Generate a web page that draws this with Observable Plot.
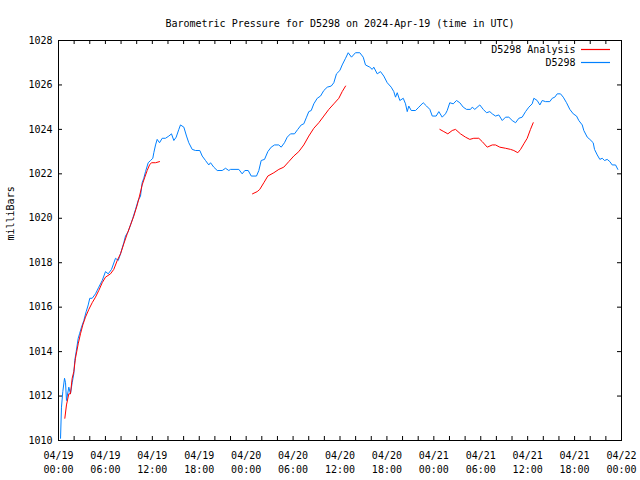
<!DOCTYPE html>
<html>
<head>
<meta charset="utf-8">
<script src="https://cdn.jsdelivr.net/npm/d3@7"></script>
<script src="https://cdn.jsdelivr.net/npm/@observablehq/plot@0.6"></script>
<style>
  html, body { margin: 0; padding: 0; background: #fff; }
</style>
</head>
<body>
<div id="chart"></div>
<script>
// ---- Data (hours since 2024-04-19 00:00 UTC, pressure in mb) ----
const titleText = "Barometric Pressure for D5298 on 2024-Apr-19 (time in UTC)";
const yLabel = "milliBars";
const seriesNames = ["D5298 Analysis", "D5298"];
const seriesColors = ["#ff0000", "#0080ff"];
const yTickValues = [1010, 1012, 1014, 1016, 1018, 1020, 1022, 1024, 1026, 1028];

const blueHours = [0.26,0.38,0.55,0.77,0.9,1.02,1.32,1.53,1.75,1.96,2.08,2.26,2.52,2.69,2.94,3.24,3.54,3.8,4.0,4.31,4.73,5.15,5.59,6.01,6.36,6.78,7.29,7.64,7.93,8.35,8.57,8.91,9.21,9.5,9.85,10.19,10.49,10.7,10.91,11.13,11.47,11.77,12.06,12.19,12.41,12.62,12.92,13.26,13.68,14.11,14.45,14.75,15.05,15.39,15.6,16.03,16.37,16.66,17.1,17.52,18.07,18.38,18.8,19.22,19.44,19.86,20.3,20.94,21.36,21.78,22.0,23.06,23.49,23.83,24.26,24.65,25.32,25.62,25.92,26.35,26.77,27.2,27.63,28.17,28.48,28.9,29.25,29.67,30.18,30.6,31.04,31.37,31.72,32.01,32.32,32.65,33.09,33.51,33.93,34.37,34.88,35.21,35.55,35.98,36.28,36.71,37.05,37.47,37.98,38.53,38.97,39.26,39.81,40.12,40.32,40.76,41.18,41.6,42.04,42.55,42.88,43.1,43.32,43.65,44.09,44.38,44.6,44.8,45.11,45.66,46.08,46.64,47.07,47.49,47.8,48.3,48.64,49.07,49.49,49.71,50.04,50.48,50.9,51.32,51.76,52.18,52.69,52.91,53.24,53.88,54.32,54.74,55.16,55.47,55.89,56.31,56.75,57.17,57.59,58.02,58.45,58.87,59.3,59.73,60.15,60.58,60.79,61.22,61.56,61.86,62.28,62.83,63.14,63.47,63.78,64.2,64.55,64.97,65.39,65.83,66.25,66.54,66.98,67.18,67.62,67.95,68.38,68.55,68.9,69.23,69.54,69.83,70.17,70.51,70.81,71.24,71.53];
const bluePressure = [1010.1,1011.5,1012.2,1012.8,1012.6,1011.8,1012.4,1012.1,1012.6,1013.0,1013.6,1014.0,1014.6,1014.8,1015.1,1015.4,1015.8,1016.1,1016.4,1016.4,1016.6,1016.9,1017.2,1017.6,1017.5,1017.7,1018.2,1018.1,1018.4,1018.9,1019.2,1019.4,1019.7,1020.0,1020.4,1020.8,1021.0,1021.6,1021.8,1022.1,1022.5,1022.6,1022.7,1022.95,1023.3,1023.55,1023.4,1023.6,1023.6,1023.7,1023.8,1023.5,1023.65,1024.0,1024.2,1024.1,1023.7,1023.4,1023.1,1023.05,1023.05,1022.8,1022.6,1022.4,1022.5,1022.3,1022.15,1022.15,1022.25,1022.15,1022.2,1022.2,1022.0,1022.15,1022.15,1021.9,1021.9,1022.15,1022.6,1022.65,1023.0,1023.2,1023.3,1023.3,1023.2,1023.4,1023.65,1023.8,1023.8,1024.0,1024.2,1024.25,1024.55,1024.8,1024.85,1025.15,1025.4,1025.5,1025.75,1025.9,1025.95,1026.1,1026.5,1026.65,1026.9,1027.2,1027.45,1027.25,1027.45,1027.45,1027.25,1026.9,1026.8,1026.7,1026.8,1026.5,1026.6,1026.4,1026.1,1025.9,1025.7,1025.45,1025.65,1025.3,1025.4,1025.15,1024.8,1025.05,1024.85,1024.85,1025.0,1025.2,1025.05,1024.9,1024.6,1024.6,1024.8,1024.55,1024.7,1024.85,1025.2,1025.15,1025.3,1025.2,1025.0,1024.9,1024.9,1025.0,1024.9,1025.1,1024.9,1024.75,1024.8,1024.7,1024.6,1024.65,1024.4,1024.55,1024.55,1024.4,1024.3,1024.5,1024.55,1024.8,1025.0,1025.15,1025.4,1025.3,1025.1,1025.3,1025.25,1025.25,1025.4,1025.45,1025.6,1025.6,1025.45,1025.2,1024.9,1024.7,1024.6,1024.4,1024.2,1023.95,1023.65,1023.55,1023.4,1023.1,1022.85,1022.65,1022.7,1022.6,1022.65,1022.55,1022.4,1022.4,1022.2];

const redHours = [0.81,1.02,1.32,1.53,1.75,1.96,2.17,2.52,2.81,3.11,3.45,3.88,4.31,4.73,5.15,5.59,6.01,6.65,7.07,7.51,7.93,8.35,8.79,9.21,9.63,10.07,10.36,10.7,11.04,11.34,11.64,11.89,12.41,12.92,
  24.81,25.41,25.74,26.26,26.77,27.54,28.18,28.81,29.45,30.09,30.73,31.37,32.01,32.65,33.29,33.93,34.57,35.21,35.85,36.28,36.71,
  48.77,49.28,49.79,50.35,50.77,51.41,52.05,52.6,53.11,53.75,54.19,54.83,55.47,55.89,56.44,57.17,57.81,58.23,58.74,59.09,59.51,59.94,60.36,60.71];
const redPressure = [1011.0,1011.6,1012.1,1012.1,1012.8,1013.1,1013.7,1014.35,1014.8,1015.2,1015.55,1015.9,1016.2,1016.45,1016.75,1017.1,1017.35,1017.5,1017.7,1018.1,1018.4,1018.85,1019.3,1019.7,1020.1,1020.6,1021.0,1021.5,1021.85,1022.15,1022.4,1022.5,1022.5,1022.55,
  1021.1,1021.2,1021.3,1021.6,1021.9,1022.05,1022.2,1022.3,1022.55,1022.8,1023.0,1023.3,1023.7,1024.05,1024.3,1024.6,1024.9,1025.15,1025.4,1025.7,1025.95,
  1024.0,1023.9,1023.8,1023.95,1024.0,1023.8,1023.65,1023.55,1023.6,1023.6,1023.45,1023.2,1023.3,1023.3,1023.2,1023.15,1023.1,1023.05,1022.95,1023.1,1023.35,1023.6,1024.0,1024.3];
const redSegment = [...Array(34).fill(1), ...Array(21).fill(2), ...Array(24).fill(3)];

// ---- Build tables ----
const t0 = Date.UTC(2024, 3, 19);
const toDate = h => new Date(t0 + h * 3600000);
const blue = blueHours.map((h, i) => ({date: toDate(h), p: bluePressure[i]}));
const red = redHours.map((h, i) => ({date: toDate(h), p: redPressure[i], seg: redSegment[i]}));

const W = 640, H = 480, ML = 58, MR = 19, MT = 40, MB = 40;
const PW = W - ML - MR, PH = H - MT - MB;
const TICK = 4;
const xStart = toDate(0), xEnd = toDate(72);
const minorX = d3.utcHour.every(2).range(xStart, toDate(72.01));
const font = "'DejaVu Sans Mono', 'Liberation Mono', monospace";

const chart = Plot.plot({
  width: W, height: H,
  marginLeft: ML, marginRight: MR, marginTop: MT, marginBottom: MB,
  style: {fontFamily: font, fontSize: "10px", background: "#fff", color: "#000"},
  x: {type: "utc", domain: [xStart, xEnd]},
  y: {domain: [1010, 1028]},
  marks: [
    Plot.axisX({ticks: d3.utcHour.every(6), tickFormat: d3.utcFormat("%m/%d\n%H:%M"), tickSize: 0, tickPadding: 9, lineHeight: 1.4, label: null, fontSize: 10}),
    Plot.axisY({ticks: yTickValues, tickFormat: d3.format("d"), tickSize: 0, tickPadding: 6, label: null, fontSize: 10}),
    Plot.ruleX(minorX, {x: d => d, insetTop: PH - TICK, stroke: "#000"}),
    Plot.ruleX(minorX, {x: d => d, insetBottom: PH - TICK, stroke: "#000"}),
    Plot.ruleY(yTickValues, {y: d => d, insetRight: PW - TICK, stroke: "#000"}),
    Plot.ruleY(yTickValues, {y: d => d, insetLeft: PW - TICK, stroke: "#000"}),
    Plot.line(blue, {x: "date", y: "p", stroke: seriesColors[1], strokeWidth: 1, curve: "linear"}),
    Plot.line(red, {x: "date", y: "p", z: "seg", stroke: seriesColors[0], strokeWidth: 1, curve: "linear"}),
    Plot.frame({stroke: "#000"}),
    Plot.text([titleText], {frameAnchor: "top", dy: -21, fontSize: 10, fill: "#000"}),
    Plot.text([yLabel], {frameAnchor: "left", dx: -48, rotate: -90, fontSize: 10, fill: "#000"}),
    Plot.text([seriesNames[0]], {frameAnchor: "top-right", dx: -46, dy: 9.5, textAnchor: "end", lineAnchor: "middle", fontSize: 10, fill: "#000"}),
    Plot.text([seriesNames[1]], {frameAnchor: "top-right", dx: -46, dy: 22.5, textAnchor: "end", lineAnchor: "middle", fontSize: 10, fill: "#000"})
  ]
});

// legend line samples
const svg = d3.select(chart);
[0, 1].forEach(i => {
  const y = MT + 9.5 + i * 13;
  svg.append("line")
    .attr("x1", W - MR - 40).attr("x2", W - MR - 11)
    .attr("y1", y).attr("y2", y)
    .attr("stroke", seriesColors[i]).attr("stroke-width", 1.2);
});

document.getElementById("chart").appendChild(chart);
</script>
</body>
</html>
